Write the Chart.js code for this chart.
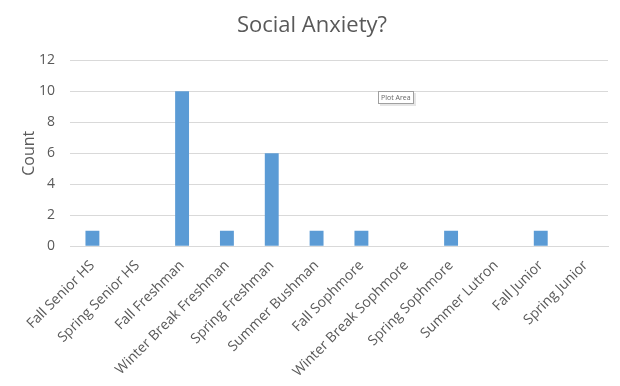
<!DOCTYPE html>
<html>
<head>
<meta charset="utf-8">
<script src="https://cdn.jsdelivr.net/npm/chart.js@4"></script>
<style>
  html, body { margin: 0; padding: 0; background: #fff; }
  #wrap { width: 620px; height: 386px; }
</style>
</head>
<body>
<div id="wrap"><canvas id="anxiety"></canvas></div>
<script>
var terms = ["Fall Senior HS", "Spring Senior HS", "Fall Freshman", "Winter Break Freshman",
    "Spring Freshman", "Summer Bushman", "Fall Sophmore", "Winter Break Sophmore",
    "Spring Sophmore", "Summer Lutron", "Fall Junior", "Spring Junior"];
var counts = [1, 0, 10, 1, 6, 1, 1, 0, 1, 0, 1, 0];
var yTicks = [0, 2, 4, 6, 8, 10, 12];

var grey = "#595959";
var fontFamily = "'Open Sans', 'Liberation Sans', sans-serif";

// the little "Plot Area" hover tip from the screenshot
var plotAreaTip = {
    id: "plotAreaTip",
    afterDraw: function (chart) {
        var ctx = chart.ctx;
        ctx.save();
        ctx.fillStyle = "#e6e6e6";
        ctx.fillRect(380, 93, 36, 13);
        ctx.fillStyle = "#fff";
        ctx.strokeStyle = "#a0a0a0";
        ctx.lineWidth = 1;
        ctx.fillRect(378.5, 91.5, 35, 12);
        ctx.strokeRect(378.5, 91.5, 35, 12);
        ctx.fillStyle = "#666";
        ctx.font = "7px " + fontFamily;
        ctx.textBaseline = "middle";
        ctx.fillText("Plot Area", 381, 97.5);
        ctx.restore();
    }
};

new Chart("anxiety", {
    type: "bar",
    data: {
        labels: terms,
        datasets: [{
            label: "Count",
            data: counts,
            backgroundColor: "#5b9bd5",
            barPercentage: 0.31,
            categoryPercentage: 1
        }]
    },
    options: {
        responsive: true,
        maintainAspectRatio: false,
        animation: false,
        layout: { padding: { left: 16, right: 12, top: 11, bottom: 3 } },
        plugins: {
            legend: { display: false },
            tooltip: { enabled: false },
            title: {
                display: true,
                text: "Social Anxiety?",
                color: grey,
                font: { family: fontFamily, size: 22, weight: "normal" },
                padding: { top: 2, bottom: 21 }
            }
        },
        scales: {
            x: {
                grid: { display: false },
                border: { color: "#d9d9d9" },
                afterFit: function (axis) {
                    // let rotated labels hang outside, like the original
                    axis.paddingLeft = 0;
                    axis.paddingRight = 0;
                },
                ticks: {
                    color: grey,
                    font: { family: fontFamily, size: 14 },
                    maxRotation: 45,
                    minRotation: 45,
                    autoSkip: false
                }
            },
            y: {
                min: 0,
                max: 12,
                afterBuildTicks: function (axis) {
                    axis.ticks = yTicks.map(function (v) { return { value: v }; });
                },
                afterFit: function (axis) {
                    axis.width = 54;
                },
                grid: { color: "#d9d9d9", drawTicks: false },
                border: { display: false },
                ticks: {
                    color: grey,
                    padding: 15,
                    font: { family: fontFamily, size: 14 }
                },
                title: {
                    display: true,
                    text: "Count",
                    color: grey,
                    font: { family: fontFamily, size: 16 }
                }
            }
        }
    },
    plugins: [plotAreaTip]
});
</script>
</body>
</html>
